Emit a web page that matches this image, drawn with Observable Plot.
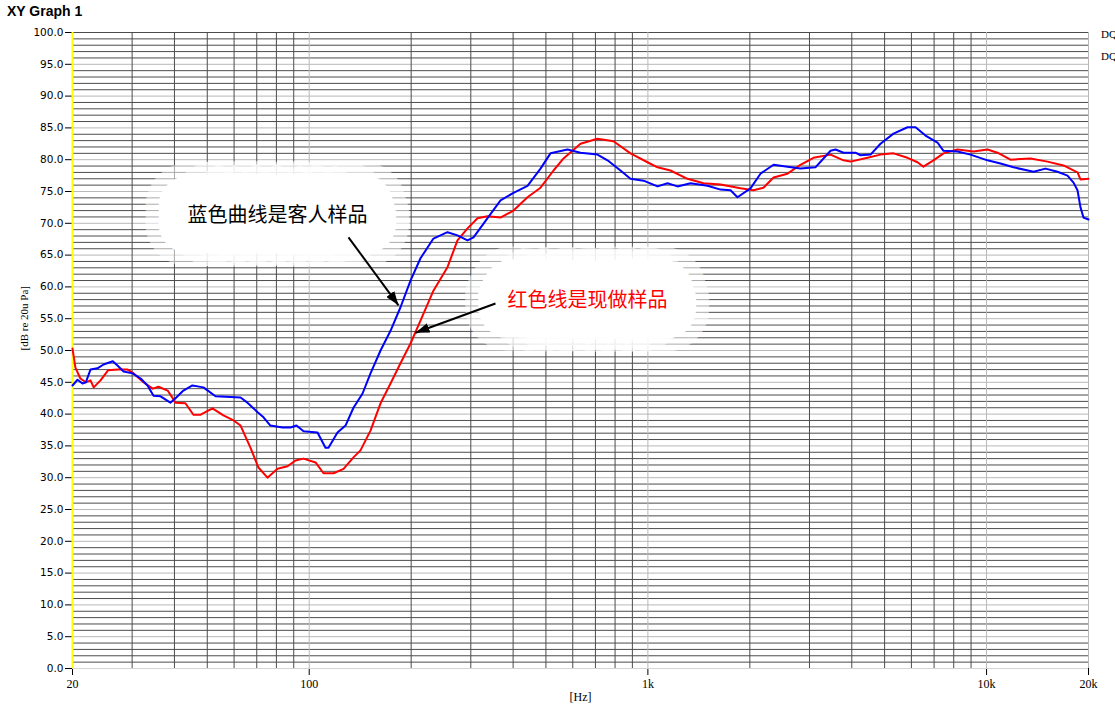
<!DOCTYPE html>
<html>
<head>
<meta charset="utf-8">
<script src="https://cdn.jsdelivr.net/npm/d3@7"></script>
<script src="https://cdn.jsdelivr.net/npm/@observablehq/plot@0.6"></script>
<style>
  html, body { margin: 0; padding: 0; background: #ffffff; overflow: hidden; }
  #wrap { position: relative; width: 1115px; height: 711px; }
  #title { height: 20px; padding-left: 7px; box-sizing: border-box; padding-top: 3px;
           font: bold 14px "Liberation Sans", Arial, sans-serif; line-height: 16px; color: #000; }
  .legend { position: absolute; left: 1101px; font: 11px "Liberation Serif", serif; color: #000; white-space: nowrap; }
  svg g[aria-label^="y-axis"] text { font-family: "DejaVu Sans", sans-serif; font-size: 10.5px; }
  svg g[aria-label^="x-axis"] text { font-family: "Liberation Serif", serif; font-size: 12px; }
  svg g[aria-label="note-halo"] text, svg g[aria-label="note-halo2"] text, svg g[aria-label="note-text"] text { letter-spacing: 3px; }
</style>
</head>
<body>
<div id="wrap">
  <div id="title">XY Graph 1</div>
  <div id="chart"></div>
  <div class="legend" style="top:28px">DQ</div>
  <div class="legend" style="top:50px">DQ</div>
</div>
<script>
// ---- axis ticks ----
const xTickValues = [20, 100, 1000, 10000, 20000];
const xTickLabels = ["20", "100", "1k", "10k", "20k"];
const yTickValues = [0, 5, 10, 15, 20, 25, 30, 35, 40, 45, 50, 55, 60, 65, 70, 75, 80, 85, 90, 95, 100];
const xMinorGrid = [30, 40, 50, 60, 70, 80, 90, 200, 300, 400, 500, 600, 700, 800, 900, 2000, 3000, 4000, 5000, 6000, 7000, 8000, 9000];
const xMajorGrid = [100, 1000, 10000, 20000];
const yMinorGrid = d3.range(1, 100).filter(v => v % 5 !== 0);
const yMajorGrid = [5, 10, 15, 20, 25, 30, 35, 40, 45, 50, 55, 60, 65, 70, 75, 80, 85, 90, 95];

// ---- blue series: customer sample (蓝色曲线是客人样品) ----
const blueHz = [20, 20.7, 21.4, 21.9, 22.6, 23.7, 24.7, 26.3, 27.2, 28.3, 30.1, 31.8, 33.3, 34.7, 36.4, 38.9, 40.3, 42.5, 45.2, 48.7, 52.9, 62.7, 65.7, 70.4, 73.3, 76.8, 83.4, 88.1, 91.7, 96.2, 105.8, 111.7, 114.0, 121.2, 128.0, 135.1, 143.6, 151.7, 162.4, 173.8, 186.0, 199.1, 213.1, 232.7, 256.0, 274.0, 293.4, 305.6, 336.2, 367.2, 401.1, 441.1, 481.9, 515.7, 579.0, 632.5, 709.9, 759.9, 830.0, 888.4, 970.6, 1068, 1143, 1223, 1336, 1500, 1639, 1754, 1839, 2009, 2150, 2350, 2584, 2822, 3124, 3462, 3581, 3782, 4102, 4244, 4544, 4863, 5312, 5843, 6171, 6603, 7163, 7462, 8208, 8966, 10066, 10994, 12010, 13764, 14930, 16196, 17340, 18062, 18560, 18940, 19330, 20000];
const blueDb = [44.5, 45.4, 44.8, 45.0, 47.0, 47.2, 47.8, 48.3, 47.6, 46.7, 46.4, 45.6, 44.5, 42.9, 42.8, 41.8, 42.5, 43.7, 44.5, 44.2, 42.8, 42.6, 41.8, 40.3, 39.5, 38.2, 37.9, 37.9, 38.2, 37.3, 37.1, 34.7, 34.7, 37.1, 38.2, 41.0, 43.2, 46.4, 50.0, 53.1, 56.8, 61.0, 64.5, 67.6, 68.6, 68.1, 67.3, 67.8, 70.8, 73.6, 74.8, 75.9, 78.6, 81.0, 81.6, 81.1, 80.8, 79.9, 78.3, 77.0, 76.7, 75.8, 76.3, 75.8, 76.3, 75.9, 75.3, 75.2, 74.1, 75.5, 77.8, 79.2, 78.9, 78.6, 78.8, 81.4, 81.6, 81.1, 81.1, 80.7, 80.8, 82.5, 84.1, 85.1, 85.1, 83.8, 82.7, 81.4, 81.3, 80.8, 79.9, 79.4, 78.8, 78.1, 78.6, 78.1, 77.5, 76.4, 75.2, 72.5, 70.9, 70.6];

// ---- red series: current sample (红色线是现做样品) ----
const redHz = [20, 20.4, 21.1, 21.9, 22.6, 23.1, 24.2, 25.5, 27.2, 29.1, 30.3, 32.4, 34.5, 35.9, 38.2, 40.3, 43.1, 45.5, 47.8, 51.8, 55.8, 59.8, 62.7, 67.1, 70.8, 75.3, 80.6, 86.3, 91.1, 96.2, 104.4, 110.2, 118.0, 126.3, 135.1, 141.7, 151.7, 162.4, 173.8, 186.0, 199.1, 213.1, 232.7, 256.0, 274.0, 293.4, 314.0, 336.2, 367.2, 401.1, 441.1, 481.9, 526.4, 563.6, 632.5, 709.9, 791.5, 888.4, 997.4, 1068, 1166, 1309, 1460, 1639, 1877, 2050, 2194, 2350, 2584, 2822, 3083, 3462, 3782, 3966, 4452, 4863, 5312, 5843, 6254, 6512, 6970, 7462, 8208, 9151, 10066, 10772, 11766, 13486, 15136, 16876, 18560, 18940, 20000];
const redDb = [50.3, 47.3, 45.6, 45.0, 45.3, 44.2, 45.3, 46.9, 47.0, 47.0, 46.4, 45.0, 44.0, 44.3, 43.7, 41.8, 41.7, 39.9, 39.9, 40.9, 39.8, 39.0, 38.2, 34.7, 31.6, 30.0, 31.4, 31.8, 32.7, 33.0, 32.4, 30.7, 30.7, 31.4, 33.2, 34.3, 37.4, 41.7, 44.8, 48.0, 51.1, 54.7, 59.4, 63.1, 67.3, 69.2, 70.8, 71.1, 70.9, 72.0, 74.1, 75.6, 78.3, 80.2, 82.5, 83.3, 82.9, 81.0, 79.6, 78.8, 78.3, 77.0, 76.3, 76.1, 75.5, 75.2, 75.6, 77.2, 77.8, 79.2, 80.3, 80.8, 79.9, 79.7, 80.3, 80.8, 81.0, 80.3, 79.6, 78.9, 79.9, 81.0, 81.6, 81.3, 81.6, 81.1, 80.0, 80.2, 79.7, 79.1, 78.0, 76.9, 77.0];

// ---- annotations ----
const noteTexts = ["蓝色曲线是客人样品", "红色线是现做样品"];
const noteHz = [80.6, 663];
const noteDb = [71.2, 57.9];
const noteColors = ["#000000", "#ff0000"];
const arrowFromHz = [130.6, 354.8];
const arrowFromDb = [67.8, 57.4];
const arrowToHz = [183.5, 206];
const arrowToDb = [57.1, 52.8];

const blue = blueHz.map((f, i) => ({f, db: blueDb[i]}));
const red = redHz.map((f, i) => ({f, db: redDb[i]}));
const notes = noteTexts.map((t, i) => ({t, f: noteHz[i], db: noteDb[i], c: noteColors[i]}));
const arrows = arrowFromHz.map((f, i) => ({f1: f, d1: arrowFromDb[i], f2: arrowToHz[i], d2: arrowToDb[i]}));

const dark = "#4c4c4c", light = "#b8b8b8";

const chart = Plot.plot({
  width: 1115,
  height: 691,
  marginTop: 12,
  marginLeft: 72,
  marginRight: 27,
  marginBottom: 43,
  style: {background: "#ffffff", fontFamily: "Liberation Serif, serif", fontSize: "12px", color: "#000000", overflow: "visible"},
  x: {type: "log", domain: [20, 20000], ticks: xTickValues, tickFormat: d => xTickLabels[xTickValues.indexOf(d)], tickSize: 7, tickPadding: 4, label: null},
  y: {domain: [0, 100], ticks: yTickValues, tickFormat: d3.format(".1f"), tickSize: 7, tickPadding: 2, label: null},
  marks: [
    Plot.ruleY(yMinorGrid, {stroke: dark, strokeWidth: 1}),
    Plot.ruleY([100], {stroke: dark, strokeWidth: 1}),
    Plot.ruleY(yMajorGrid, {stroke: light, strokeWidth: 1}),
    Plot.ruleY([0], {stroke: "#d4d4d4", strokeWidth: 1}),
    Plot.ruleX(xMinorGrid, {stroke: dark, strokeWidth: 1}),
    Plot.ruleX(xMajorGrid, {stroke: light, strokeWidth: 1}),
    Plot.ruleX([20], {stroke: "#ffff00", strokeWidth: 2}),
    // white cloud behind the annotation texts
    Plot.text(notes, {x: "f", y: "db", text: "t", fontSize: 20, fontFamily: "Noto Sans CJK SC", fill: "white", stroke: "white", strokeOpacity: 0.55, strokeWidth: 86, strokeLinejoin: "round", ariaLabel: "note-halo2"}),
    Plot.text(notes, {x: "f", y: "db", text: "t", fontSize: 20, fontFamily: "Noto Sans CJK SC", fill: "white", stroke: "white", strokeWidth: 60, strokeLinejoin: "round", ariaLabel: "note-halo"}),
    Plot.line(red, {x: "f", y: "db", stroke: "#ff0000", strokeWidth: 2}),
    Plot.line(blue, {x: "f", y: "db", stroke: "#0000ff", strokeWidth: 2}),
    Plot.text(notes, {x: "f", y: "db", text: "t", fontSize: 20, fontFamily: "Noto Sans CJK SC", fill: "c", ariaLabel: "note-text"}),
    Plot.link(arrows, {x1: "f1", y1: "d1", x2: "f2", y2: "d2", stroke: "#000000", strokeWidth: 2, markerEnd: "arrow", ariaLabel: "arrow-link"}),
    Plot.text(["[Hz]"], {frameAnchor: "bottom", dy: 32, fontSize: 12, fontFamily: "Liberation Serif"}),
    Plot.text(["[dB re 20u Pa]"], {frameAnchor: "left", rotate: -90, dx: -48, fontSize: 11, fontFamily: "Liberation Serif"})
  ]
});

// turn Plot's open arrow markers into filled arrow heads
const svgNode = chart.tagName.toLowerCase() === "svg" ? chart : chart.querySelector("svg");
d3.select(svgNode).selectAll("marker")
  .attr("viewBox", "-14 -5 14 10")
  .attr("markerUnits", "userSpaceOnUse")
  .attr("markerWidth", 14)
  .attr("markerHeight", 10)
  .attr("refX", 0)
  .attr("refY", 0)
  .attr("fill", "#000000")
  .attr("stroke", "none")
  .selectAll("path")
  .attr("d", "M-14,-5L0,0L-14,5Z")
  .attr("fill", "#000000")
  .attr("stroke", "none");

document.getElementById("chart").appendChild(chart);
</script>
</body>
</html>
